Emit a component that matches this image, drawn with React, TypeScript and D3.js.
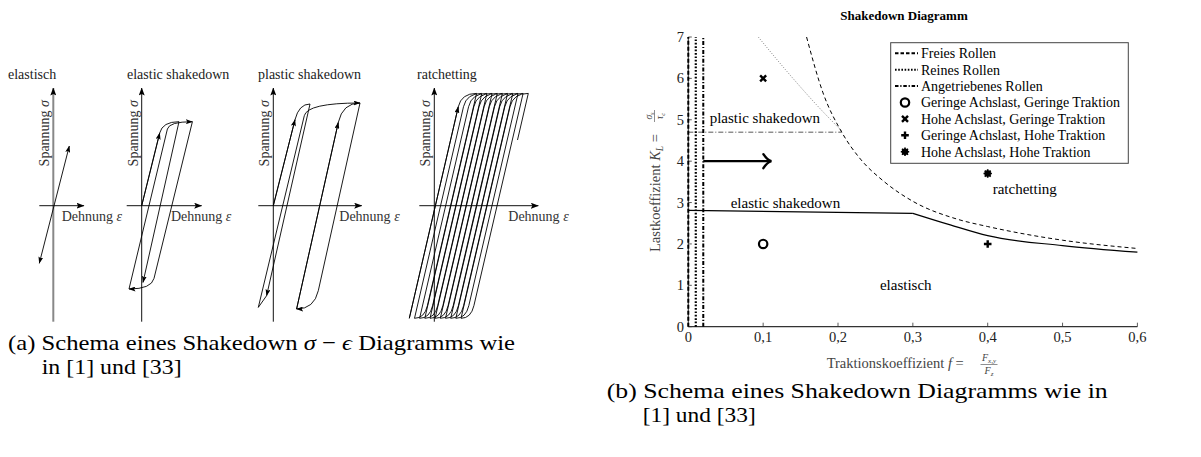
import React from "react";
import * as d3 from "d3";

// ================= (a) σ–ε schematics =================
// points: [strain, stress, curved?]  (curved = yielding arc reaching that point)
const panelTitles = ["elastisch", "elastic shakedown", "plastic shakedown", "ratchetting"];

const elasticStrokes = [
  { pts: [[-14, -57.6], [16, 59.7]], arrow: true, arrowStart: true },
];
const elasticShakedownStrokes = [
  { pts: [[0, 0], [18, 72.7]], arrow: true },
  { pts: [[0, 0], [18, 72.7], [37.3, 84, 1], [1.3, -76.7]], arrow: true },
  { pts: [[-12.7, -83.3], [25.7, 76.7], [50.7, 84, 1]], arrow: true },
  { pts: [[50.7, 84], [12.3, -72.7], [-12.7, -83.3, 1]], arrow: true },
];
const plasticShakedownStrokes = [
  { pts: [[0, 0], [21.7, 86]], arrow: true },
  { pts: [[0, 0], [21.7, 86], [36.7, 101.7, 1], [-6.7, -90]], arrow: true },
  { pts: [[-6.7, -90], [-15, -101.7], [31, 90], [86.7, 102.7, 1]], arrow: true },
  { pts: [[86.7, 102.7], [45, -85], [23.3, -103.3, 1]], arrow: true },
  { pts: [[23.3, -103.3], [65, 83.3]], arrow: true },
  { pts: [[23.3, -103.3], [65, 83.3], [86.7, 102.7, 1]], arrow: false },
];
// one ratchetting cycle: trough, end of elastic loading, peak, end of elastic unloading
const ratchetTrough = [-25, -112.6];
const ratchetYield = [24, 99];
const ratchetPeak = [42.3, 112.3];
const ratchetUnload = [-6.9, -100];
const ratchetLastEnd = [31.5, 65.7];
const ratchetShifts = [0, 5.2, 10.3, 15.5, 20.7, 25.8, 31, 36.2, 41.4, 46.5, 51.7];

const panelOrigins = [53.3, 141.7, 273.3, 434.3];
const panelHorizExtent = [[-14, 30.7], [-15, 60], [-15, 88.4], [-15, 104]];
const strainLabelOffset = [8.4, 29.3, 66, 74];
const titleX = [8, 127, 258, 417];

// ================= (b) shakedown diagram =================
const xTicks = [0, 0.1, 0.2, 0.3, 0.4, 0.5, 0.6];
const yTicks = [0, 1, 2, 3, 4, 5, 6, 7];
const freiesRollenCurve: [number, number][] = [
  [0.158, 7], [0.18, 5.65], [0.205, 4.7], [0.23, 4.05], [0.26, 3.53],
  [0.3, 3.03], [0.359, 2.6], [0.4, 2.42], [0.5, 2.09], [0.6, 1.89],
];
const reinesRollenCurve: [number, number][] = [
  [0.0935, 7], [0.136, 6.08], [0.176, 5.27], [0.205, 4.73],
];
const angetriebenLevel: [number, number][] = [[0, 4.7], [0.205, 4.7]];
const elasticLimitFlat: [number, number][] = [[0, 2.81], [0.3, 2.74]];
const elasticLimitCurve: [number, number][] = [
  [0.3, 2.74], [0.35, 2.46], [0.4, 2.2], [0.5, 1.96], [0.6, 1.8],
];
const boundaryF = [0, 0.01, 0.02];
const arrowF: [number, number] = [0.02, 0.111];
const arrowK = 4;
const legendLines = ["Freies Rollen", "Reines Rollen", "Angetriebenes Rollen"];
const legendMarkers = [
  "Geringe Achslast, Geringe Traktion",
  "Hohe Achslast, Geringe Traktion",
  "Geringe Achslast, Hohe Traktion",
  "Hohe Achslast, Hohe Traktion",
];
const markerTypes = ["circle", "cross", "plus", "star"];
const markerF = [0.1, 0.1, 0.4, 0.4];
const markerK = [2, 6, 2, 3.7];

const commaFmt = d3.formatLocale({ decimal: ",", thousands: ".", grouping: [3], currency: ["", ""] }).format("~g");

function buildPath(pts: number[][], sx: (v: number) => number, sy: (v: number) => number) {
  const p = d3.path();
  p.moveTo(sx(pts[0][0]), sy(pts[0][1]));
  for (let i = 1; i < pts.length; i++) {
    const a = pts[i - 1];
    const b = pts[i];
    if (b[2]) {
      let cx = a[0];
      if (i >= 2) {
        const z = pts[i - 2];
        const dx = a[0] - z[0];
        const dy = a[1] - z[1];
        if (dy !== 0) cx = a[0] + (dx / dy) * (b[1] - a[1]);
      }
      p.quadraticCurveTo(sx(cx), sy(b[1]), sx(b[0]), sy(b[1]));
    } else {
      p.lineTo(sx(b[0]), sy(b[1]));
    }
  }
  return p.toString();
}

function ratchetStrokes() {
  const pts: number[][] = [];
  ratchetShifts.forEach((s, i) => {
    if (i === 0) pts.push([ratchetTrough[0] + s, ratchetTrough[1]]);
    pts.push([ratchetYield[0] + s, ratchetYield[1]]);
    pts.push([ratchetPeak[0] + s, ratchetPeak[1], 1]);
    if (i < ratchetShifts.length - 1) {
      pts.push([ratchetUnload[0] + s, ratchetUnload[1]]);
      pts.push([ratchetTrough[0] + ratchetShifts[i + 1], ratchetTrough[1], 1]);
    } else {
      pts.push([ratchetLastEnd[0] + s, ratchetLastEnd[1]]);
    }
  });
  return [
    { pts: [ratchetTrough, ratchetYield], arrow: true },
    { pts, arrow: false },
  ];
}

const originY = 205.7;
const serif = "'Liberation Serif', 'DejaVu Serif', serif";

function Panel({ idx, strokes }: { idx: number; strokes: any[] }) {
  const ox = panelOrigins[idx];
  const sx = d3.scaleLinear().domain([0, 1]).range([ox, ox + 1]);
  const sy = d3.scaleLinear().domain([0, 1]).range([originY, originY - 1]);
  const [hl, hr] = panelHorizExtent[idx];
  return (
    <g>
      <text x={titleX[idx]} y={79} fontFamily={serif} fontSize={14} fill="#222">{panelTitles[idx]}</text>
      <line x1={sx(0)} x2={sx(0)} y1={sy(-116)} y2={sy(117.7)}
        stroke={idx === 0 ? "#888" : "#111"} strokeWidth={idx === 0 ? 2 : 1} markerEnd="url(#axArrow)" />
      <line x1={sx(hl)} x2={sx(hr)} y1={sy(0)} y2={sy(0)} stroke="#111" strokeWidth={1} markerEnd="url(#axArrow)" />
      <text transform={`translate(${ox - 4},100) rotate(-90)`} textAnchor="end" fontFamily={serif} fontSize={14} fill="#333">
        Spannung <tspan fontStyle="italic">σ</tspan>
      </text>
      <text x={ox + strainLabelOffset[idx]} y={221} fontFamily={serif} fontSize={14} fill="#333">
        Dehnung <tspan fontStyle="italic">ε</tspan>
      </text>
      {strokes.map((s, i) => (
        <path key={i} d={buildPath(s.pts, sx, sy)} fill="none" stroke="#000" strokeWidth={0.9}
          markerEnd={s.arrow ? "url(#lnArrow)" : undefined}
          markerStart={s.arrowStart ? "url(#lnArrowStart)" : undefined} />
      ))}
    </g>
  );
}

function Marker({ type, x, y }: { type: string; x: number; y: number }) {
  if (type === "circle") return <circle cx={x} cy={y} r={4.2} fill="#fff" stroke="#000" strokeWidth={2.2} />;
  if (type === "cross")
    return <path d={`M${x - 3},${y - 3}L${x + 3},${y + 3}M${x - 3},${y + 3}L${x + 3},${y - 3}`} stroke="#000" strokeWidth={2.4} />;
  if (type === "plus")
    return <path d={`M${x - 3.8},${y}L${x + 3.8},${y}M${x},${y - 3.8}L${x},${y + 3.8}`} stroke="#000" strokeWidth={2.4} />;
  return (
    <g>
      <circle cx={x} cy={y} r={3.3} fill="#000" />
      <path d={`M${x - 4.2},${y}L${x + 4.2},${y}M${x},${y - 4.2}L${x},${y + 4.2}M${x - 3},${y - 3}L${x + 3},${y + 3}M${x - 3},${y + 3}L${x + 3},${y - 3}`}
        stroke="#000" strokeWidth={1.6} />
    </g>
  );
}

function ShakedownChart() {
  const x = d3.scaleLinear().domain([0, 0.6]).range([688.3, 1137.4]);
  const y = d3.scaleLinear().domain([0, 7]).range([326.7, 37]);
  const smooth = d3.line<[number, number]>().x((d) => x(d[0])).y((d) => y(d[1])).curve(d3.curveMonotoneX);
  const straight = d3.line<[number, number]>().x((d) => x(d[0])).y((d) => y(d[1]));
  const legendX = 890.7, legendY = 42.7, rowH = 16.4, firstRow = 53.3;
  return (
    <g fontFamily={serif}>
      <text x={904} y={19.5} textAnchor="middle" fontWeight="bold" fontSize={13}>Shakedown Diagramm</text>

      {/* boundary curves */}
      <path d={smooth(reinesRollenCurve) || ""} fill="none" stroke="#777" strokeWidth={0.9} strokeDasharray="1,1.6" />
      <path d={straight(angetriebenLevel) || ""} fill="none" stroke="#444" strokeWidth={0.9} strokeDasharray="5,2,1,2" />
      <path d={smooth(freiesRollenCurve) || ""} fill="none" stroke="#000" strokeWidth={1} strokeDasharray="4,3" />
      <path d={straight(elasticLimitFlat) || ""} fill="none" stroke="#000" strokeWidth={1.2} />
      <path d={smooth(elasticLimitCurve) || ""} fill="none" stroke="#000" strokeWidth={1.2} />

      {/* x axis */}
      <line x1={x(0)} x2={x(0.6)} y1={y(0)} y2={y(0)} stroke="#333" strokeWidth={1.3} />
      {xTicks.map((t) => (
        <g key={t}>
          <line x1={x(t)} x2={x(t)} y1={y(0)} y2={y(0) - 4} stroke="#333" strokeWidth={0.8} />
          <text x={x(t)} y={y(0) + 15} textAnchor="middle" fontSize={14.5} fill="#222">{commaFmt(t)}</text>
        </g>
      ))}
      {/* y axis */}
      <line x1={x(0)} x2={x(0)} y1={y(0)} y2={y(7)} stroke="#333" strokeWidth={1} />
      {yTicks.map((t) => (
        <g key={t}>
          <line x1={x(0)} x2={x(0) + 3.5} y1={y(t)} y2={y(t)} stroke="#333" strokeWidth={0.8} />
          <text x={684} y={y(t)} dy="0.35em" textAnchor="end" fontSize={14.5} fill="#222">{t}</text>
        </g>
      ))}

      {/* vertical rolling limits */}
      <line x1={x(boundaryF[0])} x2={x(boundaryF[0])} y1={y(0)} y2={y(7)} stroke="#000" strokeWidth={2} strokeDasharray="4,2" />
      <line x1={x(boundaryF[1])} x2={x(boundaryF[1])} y1={y(0)} y2={y(7)} stroke="#000" strokeWidth={2.2} strokeDasharray="1.7,1.7" />
      <line x1={x(boundaryF[2])} x2={x(boundaryF[2])} y1={y(0)} y2={y(7)} stroke="#000" strokeWidth={2} strokeDasharray="4,1.8,1.2,1.8" />

      {/* arrow */}
      <line x1={x(arrowF[0])} x2={x(arrowF[1]) - 1} y1={y(arrowK)} y2={y(arrowK)} stroke="#000" strokeWidth={2.4} />
      <path d={`M${x(arrowF[1]) - 8},${y(arrowK) - 7}Q${x(arrowF[1]) - 4},${y(arrowK) - 1} ${x(arrowF[1])},${y(arrowK)}Q${x(arrowF[1]) - 4},${y(arrowK) + 1} ${x(arrowF[1]) - 8},${y(arrowK) + 7}`}
        fill="none" stroke="#000" strokeWidth={2.4} strokeLinecap="round" />

      {/* region labels */}
      <text x={x(0.0286)} y={y(4.92)} fontSize={15}>plastic shakedown</text>
      <text x={x(0.0566)} y={y(2.88)} fontSize={15}>elastic shakedown</text>
      <text x={x(0.4067)} y={y(3.2)} fontSize={15}>ratchetting</text>
      <text x={x(0.256)} y={y(0.875)} fontSize={15}>elastisch</text>

      {/* load cases */}
      {markerTypes.map((t, i) => (
        <Marker key={t} type={t} x={x(markerF[i])} y={y(markerK[i])} />
      ))}

      {/* legend */}
      <rect x={legendX} y={legendY} width={237.6} height={120.6} fill="#fff" stroke="#444" strokeWidth={1} />
      {legendLines.map((l, i) => (
        <g key={l}>
          <line x1={895} x2={918} y1={firstRow + i * rowH} y2={firstRow + i * rowH} stroke="#000" strokeWidth={2}
            strokeDasharray={i === 0 ? "3.5,2" : i === 1 ? "1.6,1.6" : "3.5,1.8,1.2,1.8"} />
          <text x={921} y={firstRow + i * rowH} dy="0.35em" fontSize={14}>{l}</text>
        </g>
      ))}
      {legendMarkers.map((l, i) => {
        const ry = firstRow + (i + 3) * rowH;
        return (
          <g key={l}>
            <Marker type={markerTypes[i]} x={905} y={ry} />
            <text x={921} y={ry} dy="0.35em" fontSize={14}>{l}</text>
          </g>
        );
      })}

      {/* axis labels */}
      <text x={826.7} y={368} fontSize={14.5} fill="#444">
        Traktionskoeffizient <tspan fontStyle="italic">f</tspan> =
      </text>
      <text x={989} y={361} textAnchor="middle" fontSize={10} fill="#444">
        <tspan fontStyle="italic">F</tspan><tspan fontSize={7} dy={2} fontStyle="italic">x,y</tspan>
      </text>
      <line x1={980.5} x2={997.5} y1={364.5} y2={364.5} stroke="#444" strokeWidth={0.6} />
      <text x={989} y={373.5} textAnchor="middle" fontSize={10} fill="#444">
        <tspan fontStyle="italic">F</tspan><tspan fontSize={7} dy={2} fontStyle="italic">z</tspan>
      </text>

      <g transform="translate(660,252) rotate(-90)" fill="#444">
        <text x={0} y={0} fontSize={14.5}>
          Lastkoeffizient <tspan fontStyle="italic">K</tspan><tspan fontSize={9.5} dy={3} fontStyle="italic">L</tspan><tspan dy={-3}> =</tspan>
        </text>
        <text x={136} y={-8} textAnchor="middle" fontSize={9.5}>
          <tspan fontStyle="italic">σ</tspan><tspan fontSize={6.5} dy={1.5} fontStyle="italic">s</tspan>
        </text>
        <line x1={130} x2={142} y1={-5.5} y2={-5.5} stroke="#444" strokeWidth={0.6} />
        <text x={136} y={3} textAnchor="middle" fontSize={9.5}>
          <tspan fontStyle="italic">τ</tspan><tspan fontSize={6.5} dy={1.5} fontStyle="italic">c</tspan>
        </text>
      </g>
    </g>
  );
}

export default function App() {
  const panelStrokes = [elasticStrokes, elasticShakedownStrokes, plasticShakedownStrokes, ratchetStrokes()];
  return (
    <svg width={1201} height={457} style={{ position: "absolute", left: 0, top: 0, background: "#fff" }}
      xmlns="http://www.w3.org/2000/svg">
      <defs>
        <marker id="axArrow" viewBox="0 0 8 6" refX={7.5} refY={3} markerWidth={8} markerHeight={6}
          markerUnits="userSpaceOnUse" orient="auto">
          <path d="M0,0 L8,3 L0,6 L1.6,3 Z" fill="#000" />
        </marker>
        <marker id="lnArrow" viewBox="0 0 7 5" refX={6.5} refY={2.5} markerWidth={7} markerHeight={5}
          markerUnits="userSpaceOnUse" orient="auto">
          <path d="M0,0 L7,2.5 L0,5 L1.4,2.5 Z" fill="#000" />
        </marker>
        <marker id="lnArrowStart" viewBox="0 0 7 5" refX={6.5} refY={2.5} markerWidth={7} markerHeight={5}
          markerUnits="userSpaceOnUse" orient="auto-start-reverse">
          <path d="M0,0 L7,2.5 L0,5 L1.4,2.5 Z" fill="#000" />
        </marker>
      </defs>
      {panelStrokes.map((s, i) => (
        <Panel key={i} idx={i} strokes={s} />
      ))}
      <ShakedownChart />

      <text x={8} y={349.5} fontFamily={serif} fontSize={22} textLength={507} lengthAdjust="spacingAndGlyphs">
        (a) Schema eines Shakedown <tspan fontStyle="italic">σ</tspan> − <tspan fontStyle="italic">ϵ</tspan> Diagramms wie
      </text>
      <text x={41.7} y={373.5} fontFamily={serif} fontSize={22} textLength={140} lengthAdjust="spacingAndGlyphs">in [1] und [33]</text>
      <text x={606.7} y={398} fontFamily={serif} fontSize={22} textLength={501} lengthAdjust="spacingAndGlyphs">
        (b) Schema eines Shakedown Diagramms wie in
      </text>
      <text x={642.7} y={422} fontFamily={serif} fontSize={22} textLength={113} lengthAdjust="spacingAndGlyphs">[1] und [33]</text>
    </svg>
  );
}
